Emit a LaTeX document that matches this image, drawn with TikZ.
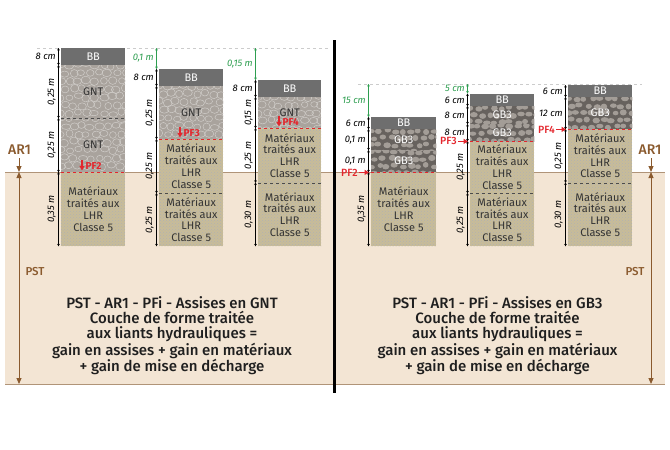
\documentclass[tikz,border=0pt]{standalone}
\usepackage{fontspec}
\setmainfont{Fira Sans}
\newfontfamily\medfont{Fira Sans}[UprightFont=* Medium]
\usetikzlibrary{arrows.meta}
\usetikzlibrary{calc}
\usetikzlibrary{patterns}
\definecolor{sol}{HTML}{F3E5D4}
\definecolor{terre}{HTML}{B09478}
\definecolor{brun}{HTML}{8A5A2E}
\definecolor{bbc}{HTML}{6E6E6E}
\definecolor{gntc}{HTML}{A9A39D}
\definecolor{gbc}{HTML}{67625E}
\definecolor{gbp}{HTML}{A39D97}
\definecolor{lhrc}{HTML}{C8BC98}
\definecolor{vert}{HTML}{2E9E50}
\definecolor{rouge}{HTML}{E3262D}
\newcommand{\mlhr}{Matériaux\\traités aux\\LHR\\Classe 5}

\begin{document}
\begin{tikzpicture}[x=1pt,y=-1pt]
\tikzstyle{couche} = [anchor=north west, inner sep=0pt]
\tikzstyle{bb} = [couche, fill=bbc]
\tikzstyle{gnt} = [couche, fill=gntc]
\tikzstyle{gb} = [couche, fill=gbc]
\tikzstyle{lhr} = [couche, fill=lhrc, postaction={pattern=crosshatch dots, pattern color=black!30}]
\tikzstyle{etiq} = [inner sep=0pt, align=center, font=\fontsize{11}{11.7}\selectfont]
\tikzstyle{cote} = [{Stealth[length=2.5pt,width=2.6pt]}-{Stealth[length=2.5pt,width=2.6pt]}, line width=0.6pt]
\tikzstyle{cotah} = [anchor=east, inner sep=1pt, font=\fontsize{9.5}{10}\selectfont\itshape]
\tikzstyle{cotav} = [cotah, anchor=south, rotate=90]
\tikzstyle{sep} = [black!70, dashed, line width=0.6pt]
\tikzstyle{pfligne} = [rouge, dashed, line width=0.8pt]
\tikzstyle{repere} = [black!20, dashed, line width=0.6pt]
\tikzstyle{pfpetit} = [rouge, inner sep=0.5pt, font=\fontsize{10}{10}\selectfont\bfseries]
\tikzstyle{pfgrand} = [rouge, inner sep=1pt, font=\fontsize{10.5}{10}\selectfont\medfont]
\tikzstyle{brune} = [brun, line width=1pt, -{Triangle[length=6pt,width=5pt]}]
\tikzstyle{titre} = [align=center, black!88, font=\fontsize{15}{15.2}\selectfont\medfont]
\tikzstyle{niveau} = [brun, font=\fontsize{14}{14}\selectfont\medfont]
\tikzstyle{galet} = [white!45!gntc, line width=0.5pt]
\tikzstyle{bloc} = [fill=gbp]

\useasboundingbox (0,0) rectangle (670,450);
\fill[sol] (5,172) rectangle (665,384);
\draw[terre, line width=0.8pt] (5,172) -- (665,172) (5,384) -- (665,384);

\coordinate (ha) at (37,48);
\coordinate (hb) at (330,48);
\coordinate (hc) at (358,84);
\coordinate (hd) at (642,84);
\draw[repere] (ha) -- (hb);
\draw[repere] (hc) -- (hd);

\foreach \nom/\xl/\xr/\yt/\yb/\mat/\lab/\ori in {
    a1/61/125/48/65/bb/8 cm/cotah,
    a2/61/125/65/118/gnt/0{,}25 m/cotav,
    a3/61/125/118/172/gnt/0{,}25 m/cotav,
    a4/61/125/172/246/lhr/0{,}35 m/cotav,
    b1/159/223/69/86/bb/8 cm/cotah,
    b2/159/223/86/139/gnt/0{,}25 m/cotav,
    b3/159/223/139/193/lhr/0{,}25 m/cotav,
    b4/159/223/193/246/lhr/0{,}25 m/cotav,
    c1/258/321/80/97/bb/8 cm/cotah,
    c2/258/321/97/128/gnt/0{,}15 m/cotav,
    c3/258/321/128/182.5/lhr/0{,}25 m/cotav,
    c4/258/321/182.5/246/lhr/0{,}30 m/cotav,
    d1/371/436/117/129/bb/6 cm/cotah,
    d2/371/436/129/150/gb/0{,}1 m/cotah,
    d3/371/436/150/172/gb/0{,}1 m/cotah,
    d4/371/436/172/246/lhr/0{,}35 m/cotav,
    e1/470/534/93.5/106/bb/6 cm/cotah,
    e2/470/534/106/124/gb/8 cm/cotah,
    e3/470/534/124/141/gb/8 cm/cotah,
    e4/470/534/141/193/lhr/0{,}25 m/cotav,
    e5/470/534/193/246/lhr/0{,}25 m/cotav,
    f1/568/632/85/97/bb/6 cm/cotah,
    f2/568/632/97/129/gb/12 cm/cotah,
    f3/568/632/129/182.5/lhr/0{,}25 m/cotav,
    f4/568/632/182.5/246/lhr/0{,}30 m/cotav}{
  \node[\mat, minimum width={\xr-\xl}, minimum height={\yb-\yt}] (\nom) at (\xl,\yt) {};
  \draw[cote] ($(\nom.north west)+(-2.5,0)$) -- ($(\nom.south west)+(-2.5,0)$);
  \node[\ori] (\nom-c) at ($(\nom.west)+(-4,0)$) {\lab};
}

% cailloux
\pgfmathsetseed{7}
\foreach \nom in {a2,a3,b2,c2}{
  \begin{scope}
  \clip (\nom.south west) rectangle (\nom.north east);
  \foreach \i in {0,...,7}
    \foreach \j in {0,...,6}
      \draw[galet] ($(\nom.north west)+({\i*8.5+mod(\j,2)*4+rand*1.5},{\j*8+rand*1.5})$) ellipse ({4+rand*0.8} and {3.3+rand*0.6});
  \end{scope}
}
\foreach \nom in {d2,d3,e2,e3,f2}{
  \begin{scope}
  \clip (\nom.south west) rectangle (\nom.north east);
  \foreach \i in {0,...,8}
    \foreach \j in {0,...,4}
      \path[bloc] ($(\nom.north west)+({\i*8+mod(\j,2)*4+rand*1.5},{\j*7+2+rand*1.2})$) ellipse ({3.4+rand*0.6} and {2.6+rand*0.5});
  \end{scope}
}

% textes des couches
\foreach \nom/\coul/\txt in {a1/white/BB, a2/black!80/GNT, a3/black!80/GNT, a4/black!80/\mlhr,
    b1/white/BB, b2/black!80/GNT, b3/black!80/\mlhr, b4/black!80/\mlhr,
    c1/white/BB, c2/black!80/GNT, c3/black!80/\mlhr, c4/black!80/\mlhr,
    d1/white/BB, d2/white/GB3, d3/white/GB3, d4/black!80/\mlhr,
    e1/white/BB, e2/white/GB3, e3/white/GB3, e4/black!80/\mlhr, e5/black!80/\mlhr,
    f1/white/BB, f2/white/GB3, f3/black!80/\mlhr, f4/black!80/\mlhr}
  \node[etiq, text=\coul] (\nom-t) at (\nom.center) {\txt};

\foreach \nom in {a2,b3,c3,e4,f3}
  \draw[sep] (\nom.south west) -- (\nom.south east);
\foreach \nom in {a3,b2,c2,d3,e3,f2}
  \draw[pfligne] (\nom.south west) -- (\nom.south east);

% decalages
\foreach \nom/\hau/\lab in {b1/ha/0{,}1 m, c1/ha/0{,}15 m, d1/hc/15 cm, e1/hc/5 cm}{
  \coordinate (\nom-g) at ($(\nom.north west)+(-2.5,0)$);
  \draw[cote, vert] (\nom-g |- \hau) -- (\nom-g);
  \node[cotah, vert] (\nom-v) at ($(\nom-g |- \hau)!0.5!(\nom-g)+(-1.5,0)$) {\lab};
}

\foreach \nom/\sous/\lab in {p2/a3/PF2, p3/b2/PF3, p4/c2/PF4}{
  \node[pfpetit, anchor=south west] (\nom) at ($(\sous.south west)+(24,-2)$) {\lab};
  \draw[rouge, line width=1.4pt, -{Triangle[length=4.5pt,width=5pt]}] ([xshift=-3pt,yshift=2pt]\nom.north west) -- ([xshift=-3pt]\nom.south west);
}
\foreach \nom/\sous/\lab in {q2/d3/PF2, q3/e3/PF3, q4/f2/PF4}{
  \node[pfgrand, anchor=east] (\nom) at ($(\sous.south west)+(-12,0)$) {\lab};
  \draw[rouge, line width=1.4pt, -{Triangle[length=4.5pt,width=5pt]}] (\nom.east) -- ($(\sous.south west)+(-2,0)$);
}

\node[niveau] (ar1) at (19.5,150) {AR1};
\node[niveau] (ar2) at (650,150) {AR1};
\coordinate (sg) at (19,172);
\coordinate (sgb) at (19,384);
\coordinate (sd) at (651,172);
\coordinate (sdb) at (651,384);
\draw[brune] (ar1.south -| sg) -- (sg);
\draw[brune] (ar2.south -| sd) -- (sd);
\draw[brune, {Triangle[length=6pt,width=5pt]}-{Triangle[length=6pt,width=5pt]}] (sg) -- (sgb);
\draw[brune, {Triangle[length=6pt,width=5pt]}-{Triangle[length=6pt,width=5pt]}] (sd) -- (sdb);
\node[niveau, anchor=west, font=\fontsize{11.5}{12}\selectfont\medfont] (pst1) at (22,272) {PST};
\node[niveau, anchor=east, font=\fontsize{11.5}{12}\selectfont\medfont] (pst2) at (648,272) {PST};

\node[titre] (t1) at (172,335.5) {PST - AR1 - PFi - Assises en GNT\\Couche de forme traitée\\aux liants hydrauliques =\\gain en assises + gain en matériaux\\+ gain de mise en décharge};
\node[titre] (t2) at (497.5,335.5) {PST - AR1 - PFi - Assises en GB3\\Couche de forme traitée\\aux liants hydrauliques =\\gain en assises + gain en matériaux\\+ gain de mise en décharge};

\draw[line width=3pt] (334,40) -- (334,393);
\end{tikzpicture}
\end{document}
